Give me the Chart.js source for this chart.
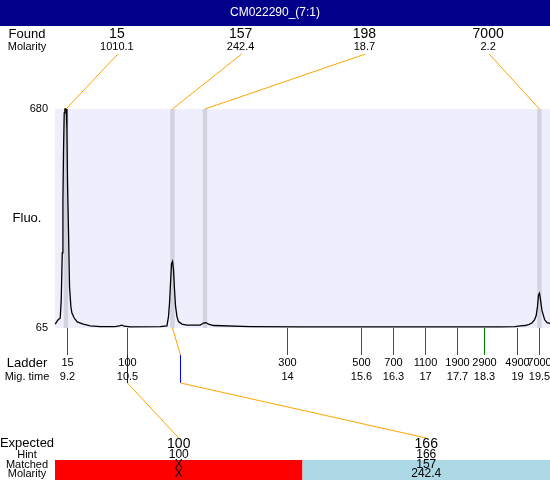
<!DOCTYPE html>
<html>
<head>
<meta charset="utf-8">
<script src="https://cdn.jsdelivr.net/npm/chart.js@4/dist/chart.umd.min.js"></script>
<style>
  html, body { margin: 0; padding: 0; background: #fff; }
  #gel { display: block; }
</style>
</head>
<body>
<canvas id="gel" width="550" height="480"></canvas>
<script>
const sampleName = 'CM022290_(7:1)';

// electropherogram trace: migration time (s) vs fluorescence
const traceTime = [8.945, 8.999, 9.054, 9.076, 9.098, 9.113, 9.126, 9.141, 9.156, 9.185,
    9.200, 9.213, 9.235, 9.257, 9.287, 9.309, 9.359, 9.425, 9.555, 9.708,
    9.926, 10.253, 10.340, 10.399, 10.449, 10.580, 11.234, 11.380, 11.414, 11.436,
    11.458, 11.480, 11.502, 11.523, 11.545, 11.567, 11.598, 11.632, 11.707, 11.815,
    12.105, 12.177, 12.230, 12.286, 12.395, 13.195, 14.285, 15.375, 16.464, 17.554,
    18.644, 18.971, 19.080, 19.189, 19.276, 19.335, 19.392, 19.429, 19.457, 19.479,
    19.501, 19.523, 19.553, 19.614, 19.666, 19.734];
const traceFluo = [76, 87, 93, 144, 276, 424, 565, 669, 680, 680,
    621, 472, 332, 180, 124, 107, 93, 82, 76, 71,
    69, 69, 71, 73, 70, 68, 69, 71, 97, 134,
    190, 246, 252, 229, 173, 127, 97, 83, 76, 73,
    73, 79, 80, 76, 72, 69, 68, 68, 68, 68,
    68, 69, 71, 72, 75, 79, 88, 100, 125, 158,
    163, 145, 115, 88, 80, 78];
const fluoTicks = [65, 680];

// found peaks
const foundSizes = ['15', '157', '198', '7000'];
const foundMolarity = ['1010.1', '242.4', '18.7', '2.2'];
const foundTimes = [9.18, 11.50, 12.21, 19.50];

// ladder
const ladderSizes = ['15', '100', '300', '500', '700', '1100', '1900', '2900', '4900', '7000'];
const ladderTimes = [9.2, 10.5, 14, 15.6, 16.3, 17, 17.7, 18.3, 19, 19.5];

// expected fragments
const expectedSizes = ['100', '166'];
const hintSizes = ['100', '166'];
const matchedSizes = ['X', '157'];
const matchedMolarity = ['X', '242.4'];
const expectedTimes = [10.5, 11.655];
const matchedPeak = [-1, 1];

const FONT = '"Liberation Sans", Arial, sans-serif';

function text(ctx, str, x, y, size, color, align) {
    ctx.font = size + 'px ' + FONT;
    ctx.fillStyle = color || '#000';
    ctx.textAlign = align || 'center';
    ctx.textBaseline = 'middle';
    ctx.fillText(str, x, y);
}

function line(ctx, x1, y1, x2, y2, color) {
    ctx.strokeStyle = color;
    ctx.lineWidth = 1;
    ctx.beginPath();
    ctx.moveTo(x1, y1);
    ctx.lineTo(x2, y2);
    ctx.stroke();
}

const backdrop = {
    id: 'backdrop',
    beforeDraw(chart) {
        const ctx = chart.ctx;
        ctx.save();
        ctx.fillStyle = '#fff';
        ctx.fillRect(0, 0, chart.width, chart.height);
        ctx.fillStyle = '#00008b';
        ctx.fillRect(0, 0, chart.width, 26);
        text(ctx, sampleName, chart.width / 2, 13, 12, '#fff');
        ctx.restore();
    },
    beforeDatasetsDraw(chart) {
        const ctx = chart.ctx;
        const a = chart.chartArea;
        const xs = chart.scales.x;
        ctx.save();
        ctx.fillStyle = '#eeeefc';
        ctx.fillRect(a.left, a.top, a.right - a.left, a.bottom - a.top);
        ctx.fillStyle = '#d3d3e0';
        foundTimes.forEach(t => {
            const px = xs.getPixelForValue(t);
            ctx.fillRect(px - 2.2, a.top, 4.4, a.bottom - a.top);
        });
        ctx.restore();
    },
    afterDatasetsDraw(chart) {
        const ctx = chart.ctx;
        const a = chart.chartArea;
        const xs = chart.scales.x;
        const ys = chart.scales.y;
        const w = a.right - a.left;
        ctx.save();

        // y axis
        fluoTicks.forEach(v => text(ctx, String(v), 48, ys.getPixelForValue(v), 11, '#000', 'right'));
        text(ctx, 'Fluo.', 27, (a.top + a.bottom) / 2, 13);

        // found peaks
        text(ctx, 'Found', 27, 34, 13);
        text(ctx, 'Molarity', 27, 47, 11);
        foundSizes.forEach((s, i) => {
            const cx = a.left + (i + 0.5) * w / foundSizes.length;
            text(ctx, s, cx, 34, 14);
            text(ctx, foundMolarity[i], cx, 47, 11);
            line(ctx, cx + 1, 54, xs.getPixelForValue(foundTimes[i]), a.top, '#ffa500');
        });

        // ladder
        text(ctx, 'Ladder', 27, 363, 13);
        text(ctx, 'Mig. time', 27, 377, 11);
        ladderSizes.forEach((s, i) => {
            const px = Math.round(xs.getPixelForValue(ladderTimes[i])) + 0.5;
            line(ctx, px, a.bottom, px, 355, '#008000');
            text(ctx, s, px, 363, 11);
            text(ctx, String(ladderTimes[i]), px, 377, 11);
        });

        // expected
        const colW = w / expectedSizes.length;
        expectedSizes.forEach((s, i) => {
            const cx = a.left + (i + 0.5) * colW;
            const px = Math.round(xs.getPixelForValue(expectedTimes[i])) + 0.5;
            line(ctx, px, 355, px, 383, '#0000ff');
            line(ctx, px, 383, cx, 438, '#ffa500');
            if (matchedPeak[i] >= 0) {
                line(ctx, xs.getPixelForValue(foundTimes[matchedPeak[i]]), a.bottom, px, 355, '#ffa500');
            }
            ctx.fillStyle = matchedSizes[i] === 'X' ? '#ff0000' : '#add8e6';
            ctx.fillRect(a.left + i * colW, 460, colW, chart.height - 460);
            text(ctx, s, cx, 444, 14);
            text(ctx, hintSizes[i], cx, 455, 12);
            text(ctx, matchedSizes[i], cx, 465, 12);
            text(ctx, matchedMolarity[i], cx, 474, 12);
        });
        text(ctx, 'Expected', 27, 443, 13);
        text(ctx, 'Hint', 27, 455, 11);
        text(ctx, 'Matched', 27, 465, 11);
        text(ctx, 'Molarity', 27, 474, 11);

        ctx.restore();
    }
};

new Chart(document.getElementById('gel'), {
    type: 'line',
    data: {
        datasets: [{
            data: traceTime.map((t, i) => ({ x: t, y: traceFluo[i] })),
            borderColor: '#000',
            borderWidth: 1.3,
            pointRadius: 0,
            tension: 0,
            fill: false,
            clip: 2
        }]
    },
    options: {
        responsive: false,
        animation: false,
        layout: { padding: { left: 55, right: 0, top: 109, bottom: 152 } },
        scales: {
            x: { type: 'linear', min: 8.94, max: 19.73, display: false },
            y: { min: 65, max: 680, display: false }
        },
        plugins: { legend: { display: false }, tooltip: { enabled: false } }
    },
    plugins: [backdrop]
});
</script>
</body>
</html>
